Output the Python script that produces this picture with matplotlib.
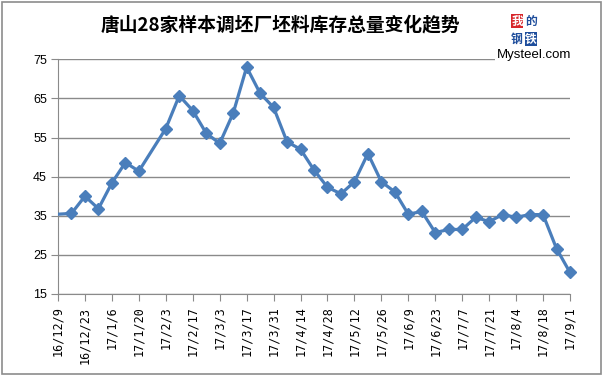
import matplotlib
matplotlib.use("Agg")
import matplotlib.pyplot as plt
import pandas as pd
from matplotlib.patches import Rectangle

plt.rcParams['font.family'] = ['Noto Sans CJK SC', 'DejaVu Sans']

# weekly dates (no data for the CNY week 17/1/27); the first point sits left of the axis
dates = pd.to_datetime([
    "2016-12-02", "2016-12-16", "2016-12-23", "2016-12-30",
    "2017-01-06", "2017-01-13", "2017-01-20", "2017-02-03", "2017-02-10",
    "2017-02-17", "2017-02-24", "2017-03-03", "2017-03-10", "2017-03-17",
    "2017-03-24", "2017-03-31", "2017-04-07", "2017-04-14", "2017-04-21",
    "2017-04-28", "2017-05-05", "2017-05-12", "2017-05-19", "2017-05-26",
    "2017-06-02", "2017-06-09", "2017-06-16", "2017-06-23", "2017-06-30",
    "2017-07-07", "2017-07-14", "2017-07-21", "2017-07-28", "2017-08-04",
    "2017-08-11", "2017-08-18", "2017-08-25", "2017-09-01",
])
stock = [35.2, 35.6, 40.0, 36.8, 43.4, 48.6, 46.4, 57.3, 65.7,
         61.9, 56.1, 53.5, 61.2, 73.0, 66.3, 62.7, 53.9, 52.0, 46.7,
         42.3, 40.6, 43.7, 50.9, 43.7, 41.1, 35.4, 36.1, 30.7, 31.5,
         31.5, 34.6, 33.5, 35.3, 34.6, 35.3, 35.3, 26.6, 20.5]
yticks = [15, 25, 35, 45, 55, 65, 75]
title = "唐山28家样本调坯厂坯料库存总量变化趋势"

fig = plt.figure(figsize=(6.03, 3.76), dpi=100)
fig.patches.append(Rectangle((0.004, 0.005), 0.992, 0.99, transform=fig.transFigure,
                             fill=False, edgecolor="#8c8c8c", linewidth=1.2))

ax = fig.add_axes([58 / 603, 1 - 294 / 376, 512 / 603, (294 - 59.3) / 376])
blue = "#4a7ebb"
ax.plot(dates, stock, color=blue, linewidth=2.3, zorder=3)
ax.plot(dates[1:], stock[1:], linestyle="none", marker="D", markersize=6,
        markerfacecolor=blue, markeredgecolor=blue, zorder=4, clip_on=False)

ax.set_xlim(pd.Timestamp("2016-12-09"), pd.Timestamp("2017-09-01"))
ax.set_ylim(15, 75)
ax.set_yticks(yticks)
ticks = pd.date_range("2016-12-09", "2017-09-01", freq="14D")
ax.set_xticks(ticks)
ax.set_xticklabels([f"{d.year % 100}/{d.month}/{d.day}" for d in ticks],
                   rotation=90, family="DejaVu Sans Mono", fontsize=8.5, va="top")
for lab in ax.get_yticklabels():
    lab.set_fontsize(9)
    lab.set_family("Liberation Sans")

ax.grid(axis="y", color="#8a8a8a", linewidth=1)
ax.set_axisbelow(True)
for s in ["top", "right"]:
    ax.spines[s].set_visible(False)
for s in ["left", "bottom"]:
    ax.spines[s].set_color("#8a8a8a")
ax.tick_params(axis="both", color="#8a8a8a", length=5, pad=3)
ax.tick_params(axis="x", pad=4)

fig.text(0.465, 0.933, title, ha="center", va="center", fontsize=13.5, fontweight="bold")

# mysteel logo
logo = dict(fontsize=8.5, fontweight="bold", ha="center", va="center")
fig.text(517 / 603, 1 - 21 / 376, "我", color="white",
         bbox=dict(boxstyle="square,pad=0.02", facecolor="#d7262b", edgecolor="none"), **logo)
fig.text(531 / 603, 1 - 21 / 376, "的", color="#1f4e9c", **logo)
fig.text(517 / 603, 1 - 39 / 376, "钢", color="#1f4e9c", **logo)
fig.text(531 / 603, 1 - 39 / 376, "铁", color="white",
         bbox=dict(boxstyle="square,pad=0.02", facecolor="#1f4e9c", edgecolor="none"), **logo)
fig.text(534 / 603, 1 - 55 / 376, "Mysteel.com", color="black", fontsize=9.5,
         ha="center", va="center", family="Liberation Sans",
         bbox=dict(boxstyle="square,pad=0.1", facecolor="white", edgecolor="none"))

fig.savefig("out.png", dpi=100)
